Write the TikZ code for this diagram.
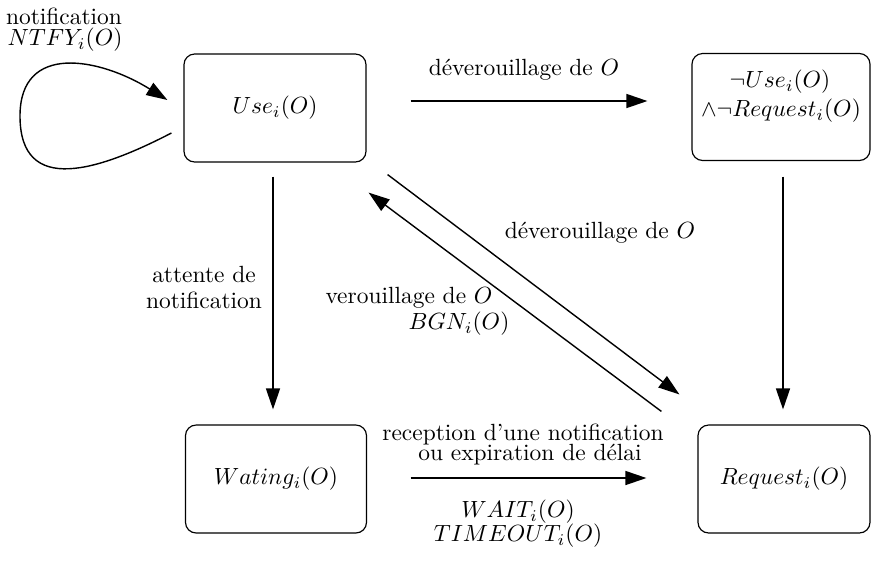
\documentclass[tikz,border=0pt]{standalone}
\usepackage{fontspec}
\usetikzlibrary{arrows.meta}
\begin{document}
\begin{tikzpicture}[x=0.015cm,y=-0.015cm,
  state/.style={draw, line width=0.5pt, rounded corners=0.16cm, inner sep=0pt,
                minimum height=1.62cm},
  flow/.style={line width=0.6pt, -{Triangle[length=9pt,width=6pt]}},
  lbl/.style={inner sep=0pt}]
\useasboundingbox (0,0) rectangle (871,561);

% states
\node[state, minimum width=2.73cm] (use) at (275,108) {$Use_i(O)$};
\node[state, minimum width=2.67cm, minimum height=1.605cm] (nu) at (781,107) {};
\node[lbl] (nu1) at (780,82) {$\neg Use_i(O)$};
\node[lbl] (nu2) at (781,111) {$\wedge\neg Request_i(O)$};
\node[state, minimum width=2.715cm] (wait) at (276,479) {$Wating_i(O)$};
\node[state, minimum width=2.58cm] (req) at (784,479) {$Request_i(O)$};

% transitions
\draw[flow] ([shift={(-12,25)}]use.west)
  .. controls (100,170) and (20,197) .. (20,116)
  .. controls (20,42) and (100,58) .. ([shift={(-16,-8)}]use.west);
\draw[flow] ([shift={(44,-7)}]use.east) -- ([shift={(-44,-6)}]nu.west);
\draw[flow] ([shift={(-2,14)}]use.south) -- ([shift={(-3,-15)}]wait.north);
\draw[flow] ([shift={(2,15.5)}]nu.south) -- ([shift={(-1,-15)}]req.north);
\draw[flow] ([shift={(43.5,-1)}]wait.east) -- ([shift={(-51,-1)}]req.west);
\draw[flow] ([shift={(21,12)}]use.south east) -- ([shift={(-18,-30)}]req.north west);
\draw[flow] ([shift={(-36,-13)}]req.north west) -- ([shift={(2,30)}]use.south east);

% labels
\node[lbl] (ntf1) at (64,16) {notification};
\node[lbl] (ntf2) at (65,40) {$NTFY_i(O)$};
\node[lbl] (dev1) at (524,70) {déverouillage de $O$};
\node[lbl] (att1) at (204,274) {attente de};
\node[lbl] (att2) at (204,300) {notification};
\node[lbl] (dev2) at (600,233) {déverouillage de $O$};
\node[lbl] (ver1) at (409,298) {verouillage de $O$};
\node[lbl] (ver2) at (459,324) {$BGN_i(O)$};
\node[lbl] (rec1) at (523,434) {reception d'une notification};
\node[lbl] (rec2) at (530,455) {ou expiration de délai};
\node[lbl] (wt1) at (518,512) {$WAIT_i(O)$};
\node[lbl] (wt2) at (518,536) {$TIMEOUT_i(O)$};
\end{tikzpicture}
\end{document}
